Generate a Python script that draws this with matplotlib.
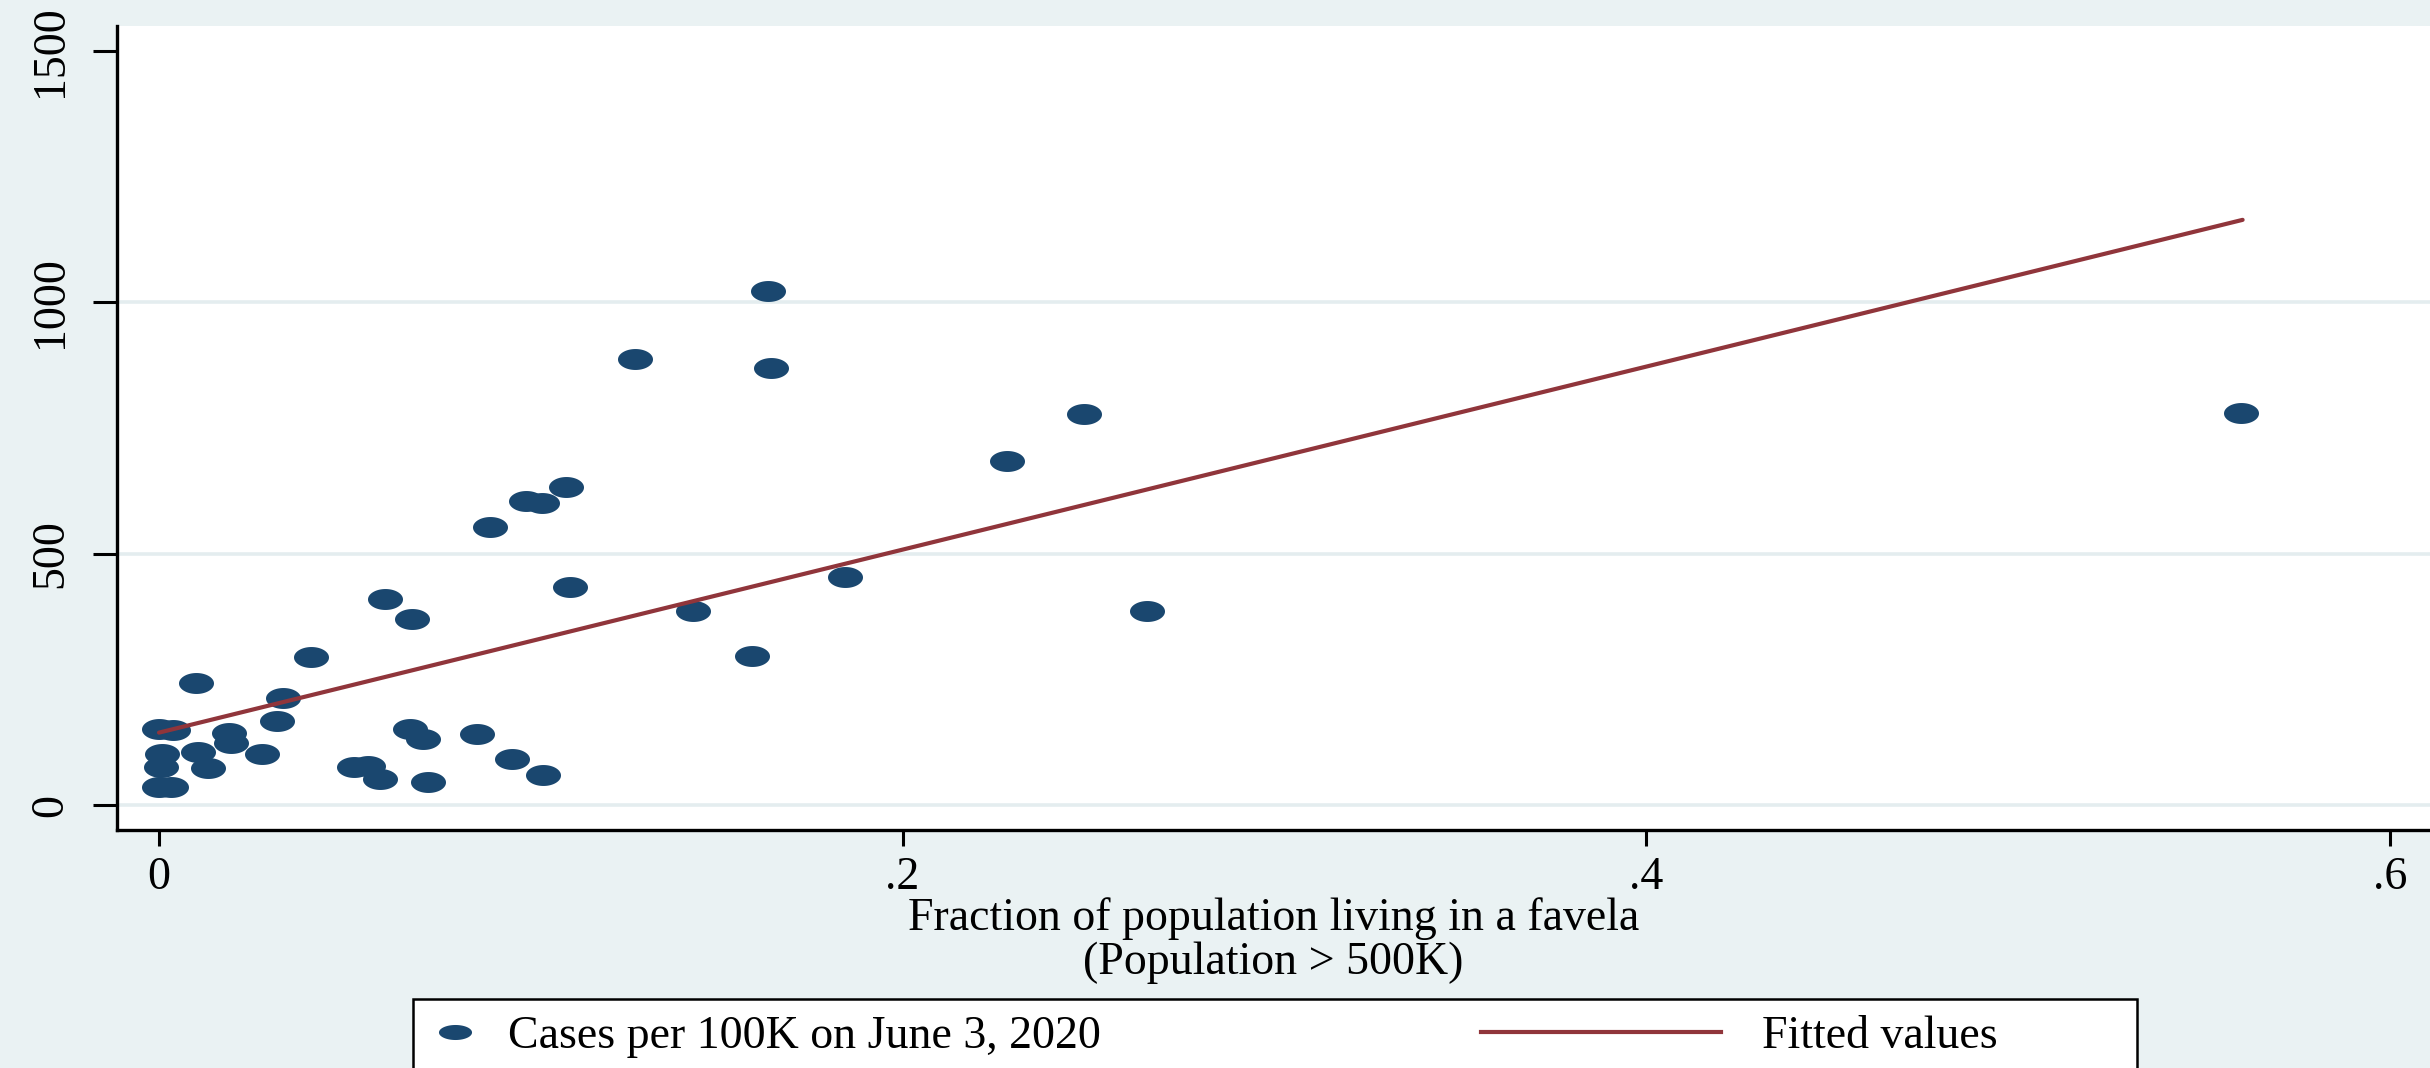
import numpy as np
import matplotlib
matplotlib.use("Agg")
import matplotlib.pyplot as plt
from matplotlib.lines import Line2D
from matplotlib.patches import Rectangle

# ---- data ----
favela_frac = [0.560, 0.1637, 0.1645, 0.128, 0.2488, 0.2282, 0.2656, 0.1846,
               0.1436, 0.1596, 0.1095, 0.103, 0.0987, 0.0889, 0.1106, 0.0608,
               0.0681, 0.041, 0.0333, 0.0318, 0.00995, 0.0, 0.0038, 0.0189,
               0.0194, 0.0106, 0.0007, 0.0005, 0.0, 0.0031, 0.0133, 0.0276,
               0.0524, 0.0563, 0.0594, 0.0675, 0.0711, 0.0724, 0.0856, 0.0950,
               0.1032]
cases_per_100k = [780, 1023, 870, 887, 777, 685, 386, 454,
                  386, 296, 632, 600, 605, 554, 433, 410,
                  371, 295, 213, 168, 242, 152, 149, 143,
                  124, 106, 101, 76, 36, 35, 73, 101,
                  76, 78, 51, 152, 131, 46, 141, 92,
                  60]
fit_x = [0.0, 0.5604]
fit_y = [144, 1164]

x_ticks = [0, 0.2, 0.4, 0.6]
x_tick_labels = ["0", ".2", ".4", ".6"]
y_ticks = [0, 500, 1000, 1500]
y_tick_labels = ["0", "500", "1000", "1500"]

scatter_label = "Cases per 100K on June 3, 2020"
fit_label = "Fitted values"
x_label = "Fraction of population living in a favela\n(Population > 500K)"

# ---- style ----
plt.rcParams['font.family'] = ['Liberation Serif', 'DejaVu Serif']
BG = "#eaf2f3"
GRID = "#e4edef"
NAVY = "#1a476f"
MAROON = "#90353b"

W, H = 2430, 1068
fig = plt.figure(figsize=(W / 100, H / 100), dpi=100, facecolor=BG)
ax = fig.add_axes([116.7 / W, 1 - 830 / H, 1 - 116.7 / W, (830 - 26) / H])
ax.set_facecolor("white")

theta = np.linspace(0, 2 * np.pi, 120)
ellipse = np.column_stack([1.67 * np.cos(theta), np.sin(theta)])
ellipse_leg = np.column_stack([2.2 * np.cos(theta), np.sin(theta)])

ax.plot(favela_frac, cases_per_100k, linestyle="none", marker=ellipse,
        ms=25.2, mfc=NAVY, mec="none", zorder=3)
ax.plot(fit_x, fit_y, color=MAROON, lw=3.0, solid_capstyle="round", zorder=4)

ax.set_xlim(-0.01138, 0.6108)
ax.set_ylim(-49.7, 1549.6)

ax.set_xticks(x_ticks)
ax.set_xticklabels(x_tick_labels)
ax.set_yticks(y_ticks)
ax.set_yticklabels(y_tick_labels, rotation=90, va="center")

ax.tick_params(axis="x", length=11.5, width=2.2, pad=7.5, labelsize=33, colors="black")
ax.tick_params(axis="y", length=17.3, width=2.2, pad=15, labelsize=33, colors="black")

ax.yaxis.grid(True, color=GRID, lw=2.6)
ax.xaxis.grid(False)
gl = ax.yaxis.get_gridlines()
gl[-1].set_visible(False)
ax.set_axisbelow(True)

for s in ["top", "right"]:
    ax.spines[s].set_visible(False)
for s in ["left", "bottom"]:
    ax.spines[s].set_linewidth(2.4)
    ax.spines[s].set_color("black")

ax.set_xlabel(x_label, fontsize=33, linespacing=1.05, labelpad=-1)

# ---- legend ----
rect = Rectangle((413 / W, -0.1), (2137 - 413) / W, 1 - 999 / H + 0.1,
                 transform=fig.transFigure, facecolor="white", edgecolor="black",
                 lw=1.8, zorder=1)
fig.add_artist(rect)

fs_leg = 33
px = fs_leg * 100 / 72
row_y = 1 - 1037 / H
h1 = Line2D([], [], linestyle="none", marker=ellipse_leg, ms=23.8, mfc=NAVY, mec="none")
L1 = 1.0
x0_1 = 455 - L1 * px / 2
leg1 = fig.legend(handles=[h1], labels=[scatter_label], loc="center left",
                  bbox_to_anchor=(x0_1 / W, row_y), frameon=False, fontsize=fs_leg,
                  handlelength=L1, handletextpad=(508 - x0_1 - L1 * px) / px,
                  borderpad=0, borderaxespad=0)
leg1.set_zorder(5)
h2 = Line2D([], [], color=MAROON, lw=3.0)
L2 = (1721 - 1481) / px
leg2 = fig.legend(handles=[h2], labels=[fit_label], loc="center left",
                  bbox_to_anchor=(1481 / W, row_y), frameon=False, fontsize=fs_leg,
                  handlelength=L2, handletextpad=(1762 - 1721) / px,
                  borderpad=0, borderaxespad=0)
leg2.set_zorder(5)

fig.savefig("out.png", dpi=100, facecolor=BG)
